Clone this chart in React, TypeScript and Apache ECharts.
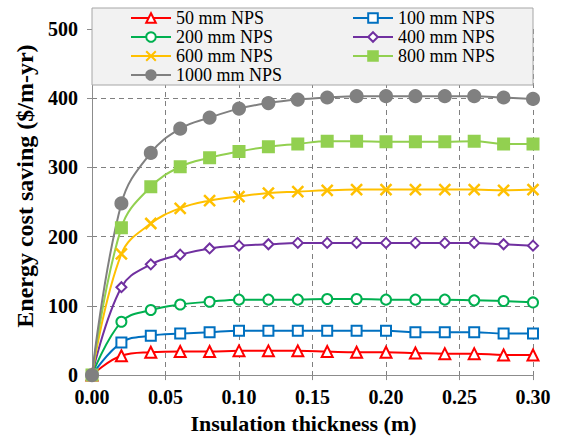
import React, { useEffect, useRef } from "react";
import * as echarts from "echarts";

const xs = [0, 0.02, 0.04, 0.06, 0.08, 0.1, 0.12, 0.14, 0.16, 0.18, 0.2, 0.22, 0.24, 0.26, 0.28, 0.3];
const names = ["50 mm NPS", "100 mm NPS", "200 mm NPS", "400 mm NPS", "600 mm NPS", "800 mm NPS", "1000 mm NPS"];
const s50 = [0, 28, 33, 34, 34, 35, 35, 35, 34, 33, 33, 32, 31, 31, 29, 29];
const s100 = [0, 47, 57, 60, 62, 64, 64, 64, 64, 64, 64, 62, 62, 62, 60, 60];
const s200 = [0, 77, 94, 102, 106, 109, 109, 109, 110, 110, 109, 109, 109, 108, 107, 105];
const s400 = [0, 127, 160, 174, 183, 187, 189, 191, 191, 191, 191, 191, 191, 191, 189, 187];
const s600 = [0, 175, 219, 241, 252, 258, 263, 265, 267, 268, 268, 268, 268, 268, 267, 268];
const s800 = [0, 213, 272, 301, 314, 323, 330, 334, 338, 338, 337, 337, 337, 338, 334, 334];
const s1000 = [0, 248, 321, 356, 372, 385, 393, 398, 401, 403, 403, 403, 403, 403, 401, 399];
const allValues = [s50, s100, s200, s400, s600, s800, s1000];
const colors = ["#ff0000", "#0070c0", "#00b050", "#7030a0", "#ffc000", "#92d050", "#808080"];
const symbols = [
  "emptyTriangle",
  "emptyRect",
  "emptyCircle",
  "emptyDiamond",
  "path://M0,0L10,10M10,0L0,10",
  "rect",
  "circle",
];
const symbolSizes = [11, 10, 10, 10, 11, 11, 12];

const FONT = "Liberation Serif";

export default function App() {
  const ref = useRef<HTMLDivElement>(null);
  useEffect(() => {
    document.body.style.margin = "0";
    const chart = echarts.init(ref.current!, null, { renderer: "svg" });
    const series = names.map((n, i) => ({
      name: n,
      type: "line",
      data: xs.map((x, j) => [x, allValues[i][j]]),
      smooth: 0.4,
      symbol: symbols[i],
      symbolSize: symbolSizes[i],
      showAllSymbol: true,
      lineStyle: { color: colors[i], width: 2 },
      itemStyle: { color: colors[i], borderColor: colors[i], borderWidth: i === 4 ? 2.5 : 2 },
      z: 3,
    }));
    const legendCommon = {
      orient: "vertical",
      top: 9,
      padding: 0,
      itemWidth: 40,
      itemHeight: 12,
      itemGap: 1,
      z: 10,
      textStyle: { fontFamily: FONT, fontSize: 18, color: "#000" },
    };
    chart.setOption({
      animation: false,
      textStyle: { fontFamily: FONT },
      grid: { left: 92, right: 32, top: 29, bottom: 60 },
      graphic: [
        {
          type: "rect",
          shape: { x: 92, y: 8, width: 441, height: 77 },
          style: { fill: "#f2f2f2", stroke: "#a6a6a6", lineWidth: 1 },
          z: 5,
        },
      ],
      legend: [
        { ...legendCommon, left: 130, data: ["50 mm NPS", "200 mm NPS", "600 mm NPS", "1000 mm NPS"] },
        { ...legendCommon, left: 352, data: ["100 mm NPS", "400 mm NPS", "800 mm NPS"] },
      ],
      xAxis: {
        type: "value",
        min: 0,
        max: 0.3,
        interval: 0.05,
        name: "Insulation thickness (m)",
        nameLocation: "middle",
        nameGap: 36,
        nameTextStyle: { fontFamily: FONT, fontSize: 22, fontWeight: "bold", color: "#000", padding: [0, 18, 0, 0] },
        axisLine: { show: true, lineStyle: { color: "#8c8c8c", width: 1 } },
        axisTick: { show: true, length: 5, lineStyle: { color: "#8c8c8c" } },
        axisLabel: {
          margin: 12,
          fontFamily: FONT,
          fontSize: 20,
          fontWeight: "bold",
          color: "#000",
          formatter: (v: number) => v.toFixed(2),
        },
        splitLine: { show: true, lineStyle: { color: "#808080", type: [5, 4], width: 1 } },
      },
      yAxis: {
        type: "value",
        min: 0,
        max: 500,
        interval: 100,
        name: "Energy cost saving ($/m-yr)",
        nameLocation: "middle",
        nameGap: 54,
        nameTextStyle: { fontFamily: FONT, fontSize: 24, fontWeight: "bold", color: "#000", padding: [0, 0, 0, 32] },
        axisLine: { show: true, lineStyle: { color: "#8c8c8c", width: 1 } },
        axisTick: { show: true, length: 5, lineStyle: { color: "#8c8c8c" } },
        axisLabel: { margin: 14, fontFamily: FONT, fontSize: 20, fontWeight: "bold", color: "#000" },
        splitLine: { show: true, lineStyle: { color: "#808080", type: [5, 4], width: 1 } },
      },
      series,
    });
    return () => chart.dispose();
  }, []);
  return <div ref={ref} style={{ width: 565, height: 439 }} />;
}
